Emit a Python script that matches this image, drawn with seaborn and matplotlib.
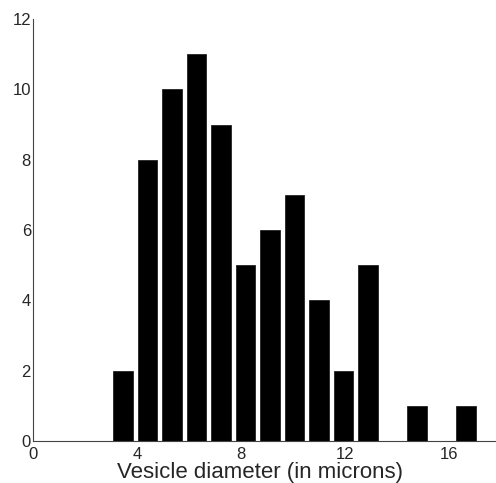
import numpy as np
import pandas as pd
import matplotlib
matplotlib.use("Agg")
import matplotlib.pyplot as plt
import seaborn as sns

# Histogram data (bin centers in microns, counts per bin)
bin_centers = [3.46, 4.40, 5.34, 6.29, 7.23, 8.17, 9.11, 10.06,
               11.00, 11.94, 12.88, 13.83, 14.77, 15.71, 16.65]
counts = [2, 8, 10, 11, 9, 5, 6, 7, 4, 2, 5, 0, 1, 0, 1]
x_ticks = [0, 4, 8, 12, 16]
y_ticks = [0, 2, 4, 6, 8, 10, 12]

df = pd.DataFrame({"diameter": bin_centers, "count": counts})

sns.set_style("white")
plt.rcParams["font.family"] = ["Liberation Sans", "DejaVu Sans"]

fig = plt.figure(figsize=(4.96, 4.83), dpi=100)
ax = fig.add_axes([33 / 496, 42 / 483, 468 / 496, 422 / 483])

sns.barplot(data=df, x="diameter", y="count", native_scale=True,
            color="black", edgecolor="#222222", linewidth=0.6,
            saturation=1, ax=ax)

ax.set_xlim(0, 18)
ax.set_ylim(0, 12)
ax.set_xticks(x_ticks)
ax.set_yticks(y_ticks)
ax.set_xlabel("Vesicle diameter (in microns)", fontsize=16, labelpad=0, x=0.485)
ax.set_ylabel("")

for side in ["top", "right"]:
    ax.spines[side].set_visible(False)
for side in ["left", "bottom"]:
    ax.spines[side].set_color("#444444")
    ax.spines[side].set_linewidth(0.8)

ax.tick_params(direction="in", length=3, width=0.8, color="#444444",
               labelsize=12)
ax.tick_params(axis="x", pad=4)
ax.tick_params(axis="y", pad=1.5)

fig.savefig("out.png", dpi=100)
